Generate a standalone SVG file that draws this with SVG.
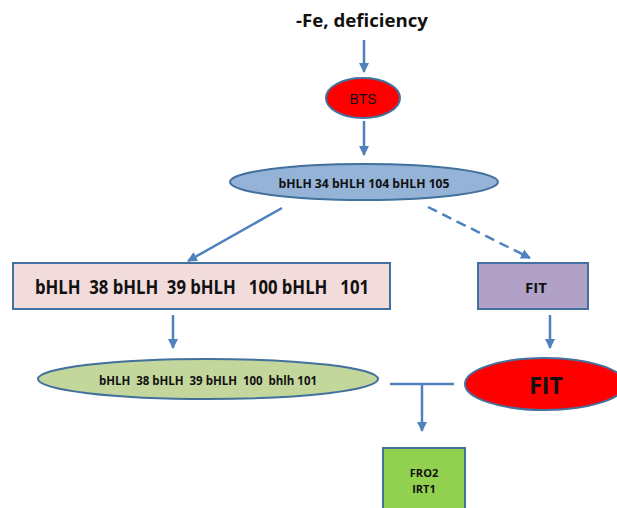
<svg xmlns="http://www.w3.org/2000/svg" width="617" height="508" viewBox="0 0 617 508">
<defs>
<marker id="ah" viewBox="0 0 10 10" refX="9" refY="5" markerWidth="4" markerHeight="4" orient="auto" markerUnits="strokeWidth">
<path d="M0,0 L10,5 L0,10 z" fill="#4f81bd"/>
</marker>
<style>
.t{font-family:"Open Sans","Liberation Sans",sans-serif;font-weight:bold;fill:#111;text-anchor:middle;dominant-baseline:central}
.n{stroke:#41719c;stroke-width:2}
.c{stroke:#4f81bd;stroke-width:2.5;fill:none}
</style>
</defs>
<rect width="617" height="508" fill="#fff"/>
<g id="title"><text class="t" x="362" y="20" font-size="18" textLength="132" lengthAdjust="spacingAndGlyphs">-Fe, deficiency</text></g>
<g id="connectors">
<line class="c" x1="364" y1="40" x2="364" y2="72" marker-end="url(#ah)"/>
<line class="c" x1="364" y1="121" x2="364" y2="155" marker-end="url(#ah)"/>
<line class="c" x1="282" y1="208" x2="188" y2="261" marker-end="url(#ah)"/>
<line class="c" x1="428" y1="207" x2="530" y2="258" stroke-dasharray="10,6" marker-end="url(#ah)"/>
<line class="c" x1="173" y1="315" x2="173" y2="348" marker-end="url(#ah)"/>
<line class="c" x1="550" y1="315" x2="550" y2="348" marker-end="url(#ah)"/>
<line class="c" x1="390" y1="384" x2="454" y2="384"/>
<line class="c" x1="422" y1="384" x2="422" y2="431" marker-end="url(#ah)"/>
</g>
<g id="bts">
<ellipse class="n" cx="363" cy="98" rx="37" ry="20" fill="#ff0000"/>
<text class="t" x="363" y="99" font-size="14" font-weight="normal" style="font-weight:normal;font-family:'Liberation Sans',sans-serif" fill="#222">BTS</text>
</g>
<g id="bhlh34">
<ellipse class="n" cx="364" cy="182" rx="134" ry="18" fill="#95b3d7"/>
<text class="t" x="364" y="183" font-size="12" textLength="171" lengthAdjust="spacingAndGlyphs">bHLH  34 bHLH  104 bHLH  105</text>
</g>
<g id="bhlh38box">
<rect class="n" x="13" y="263" width="377" height="46" fill="#f2dcdb"/>
<text class="t" x="202" y="287" font-size="19" textLength="334" lengthAdjust="spacingAndGlyphs" xml:space="preserve">bHLH  38 bHLH  39 bHLH   100 bHLH   101</text>
</g>
<g id="fitbox">
<rect class="n" x="478" y="263" width="110" height="46" fill="#b2a1c7"/>
<text class="t" x="536" y="287" font-size="15">FIT</text>
</g>
<g id="bhlh38ell">
<ellipse class="n" cx="208" cy="379" rx="170" ry="20" fill="#c3d69b"/>
<text class="t" x="208" y="380" font-size="11.5" textLength="218" lengthAdjust="spacingAndGlyphs" xml:space="preserve">bHLH  38 bHLH  39 bHLH  100  bhlh 101</text>
</g>
<g id="fitell">
<ellipse class="n" cx="545" cy="384" rx="80" ry="26" fill="#ff0000"/>
<text class="t" x="546" y="385" font-size="23">FIT</text>
</g>
<g id="fro2">
<rect class="n" x="383" y="448" width="82" height="70" fill="#92d050"/>
<text class="t" x="424" y="472" font-size="11">FRO2</text>
<text class="t" x="424" y="488" font-size="11">IRT1</text>
</g>
</svg>
